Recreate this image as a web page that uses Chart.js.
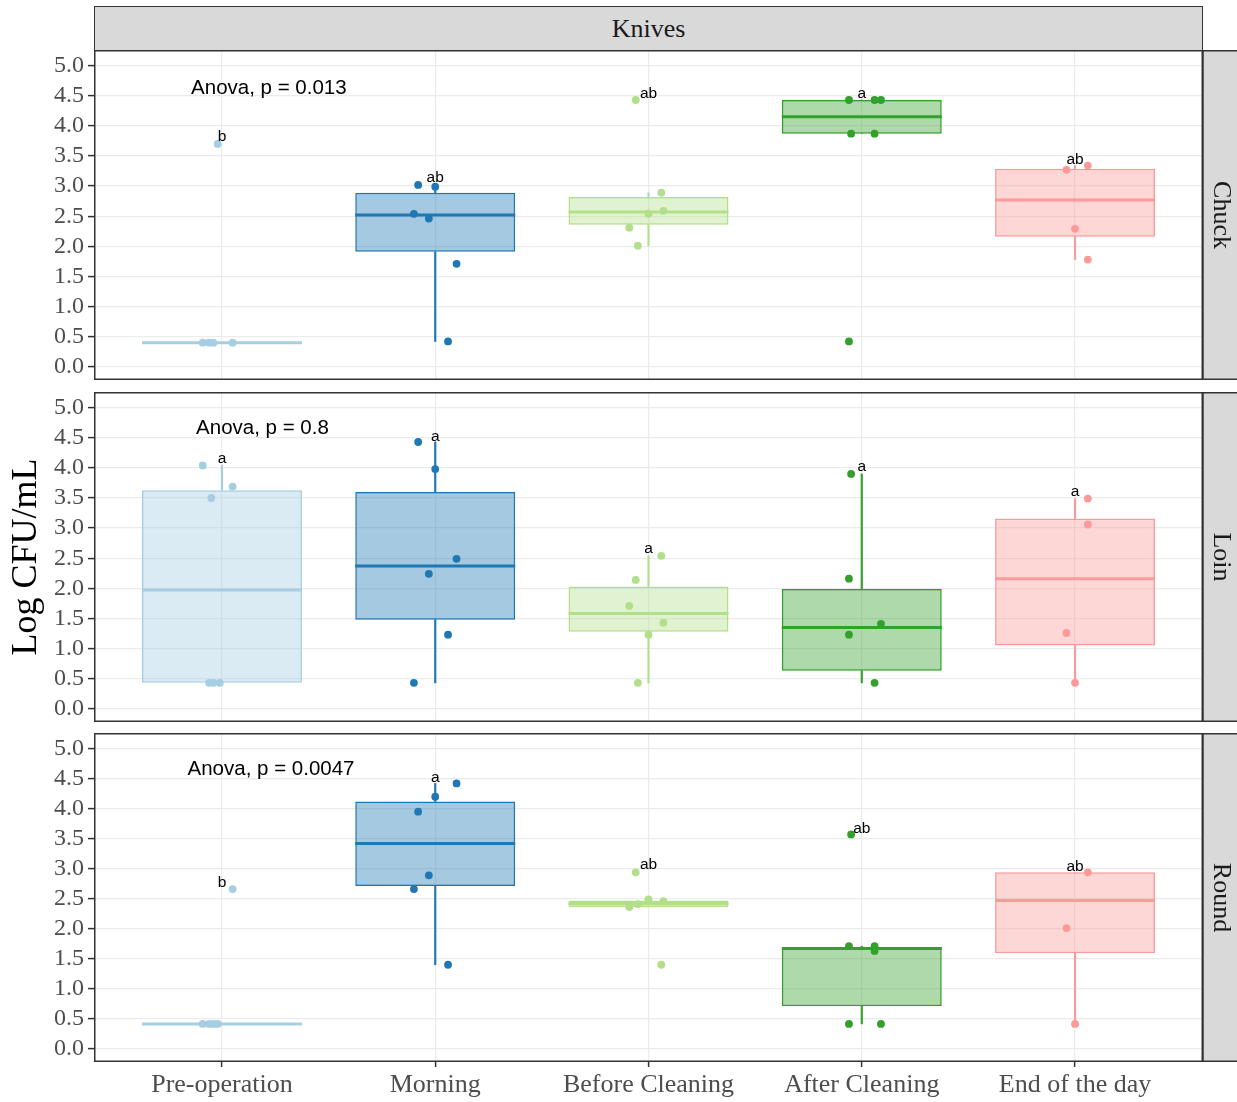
<!DOCTYPE html>
<html>
<head>
<meta charset="utf-8">
<script src="https://cdn.jsdelivr.net/npm/chart.js@4.4.1/dist/chart.umd.min.js"></script>
<style>
  body { margin: 0; background: #fff; }
  #wrap { position: relative; width: 1237px; height: 1102px; }
  canvas { position: absolute; left: 0; }
  #strip {
    position: absolute; left: 94px; top: 6px; width: 1109px; height: 44px;
    box-sizing: border-box; background: #d9d9d9; border: 1.5px solid #333; border-bottom: none;
    font: 26px "Liberation Serif", "Times New Roman", serif; color: #1a1a1a;
    text-align: center; line-height: 44px;
  }
</style>
</head>
<body>
<div id="wrap">
  <div id="strip">Knives</div>
  <canvas id="chuck" width="1237" height="330" style="top:50px"></canvas>
  <canvas id="loin" width="1237" height="330" style="top:392px"></canvas>
  <canvas id="round" width="1237" height="369" style="top:733px"></canvas>
</div>
<script>
const categories = ["Pre-operation", "Morning", "Before Cleaning", "After Cleaning", "End of the day"];
const facets = ["Chuck", "Loin", "Round"];
const groupColors = ["#a6cee3", "#1f78b4", "#b2df8a", "#33a02c", "#fb9a99"];
const yTicks = [0, 0.5, 1, 1.5, 2, 2.5, 3, 3.5, 4, 4.5, 5];

// box statistics: one row per facet (Chuck, Loin, Round), one column per category
const boxQ1 = [
  [0.40, 1.91, 2.36, 3.87, 2.16],
  [0.43, 1.48, 1.28, 0.63, 1.05],
  [0.415, 2.71, 2.36, 0.71, 1.59]
];
const boxMedian = [
  [0.40, 2.52, 2.57, 4.15, 2.77],
  [1.97, 2.37, 1.58, 1.35, 2.16],
  [0.415, 3.42, 2.42, 1.67, 2.47]
];
const boxQ3 = [
  [0.40, 2.89, 2.82, 4.43, 3.29],
  [3.63, 3.60, 2.03, 1.99, 3.16],
  [0.415, 4.12, 2.47, 1.69, 2.94]
];
const whiskerLow = [
  [0.40, 0.42, 2.01, 3.87, 1.78],
  [0.43, 0.43, 0.43, 0.43, 0.43],
  [0.415, 1.40, 2.36, 0.415, 0.415]
];
const whiskerHigh = [
  [0.40, 3.02, 2.89, 4.43, 3.34],
  [4.04, 4.43, 2.54, 3.90, 3.49],
  [0.415, 4.42, 2.47, 1.71, 2.94]
];

// raw observations (log CFU/mL) and their jitter on the x axis
const chuckPoints = [
  [3.70, 0.40, 0.40, 0.40, 0.40],
  [3.02, 2.99, 2.54, 2.46, 1.71, 0.42],
  [4.43, 2.89, 2.54, 2.59, 2.31, 2.01],
  [4.43, 4.43, 4.43, 3.87, 3.87, 0.42],
  [3.27, 3.34, 2.29, 1.78]
];
const chuckJitter = [
  [-0.02, -0.09, -0.06, -0.04, 0.05],
  [-0.08, 0.00, -0.10, -0.03, 0.10, 0.06],
  [-0.06, 0.06, 0.00, 0.07, -0.09, -0.05],
  [-0.06, 0.06, 0.09, -0.05, 0.06, -0.06],
  [-0.04, 0.06, 0.00, 0.06]
];
const loinPoints = [
  [4.04, 3.69, 3.50, 0.43, 0.43, 0.43],
  [4.43, 3.98, 2.49, 2.24, 1.23, 0.43],
  [2.54, 2.14, 1.71, 1.43, 1.23, 0.43],
  [3.90, 2.16, 1.41, 1.23, 0.43],
  [3.49, 3.06, 1.26, 0.43]
];
const loinJitter = [
  [-0.09, 0.05, -0.05, -0.06, -0.04, -0.01],
  [-0.08, 0.00, 0.10, -0.03, 0.06, -0.10],
  [0.06, -0.06, -0.09, 0.07, 0.00, -0.05],
  [-0.05, -0.06, 0.09, -0.06, 0.06],
  [0.06, 0.06, -0.04, 0.00]
];
const roundPoints = [
  [2.66, 0.415, 0.415, 0.415, 0.415],
  [4.42, 4.20, 3.95, 2.89, 2.66, 1.40],
  [2.94, 2.36, 2.41, 2.49, 2.46, 1.40],
  [3.57, 1.71, 1.71, 1.63, 0.415, 0.415],
  [2.94, 2.01, 0.415]
];
const roundJitter = [
  [0.05, -0.09, -0.06, -0.04, -0.02],
  [0.10, 0.00, -0.08, -0.03, -0.10, 0.06],
  [-0.06, -0.09, -0.05, 0.00, 0.07, 0.06],
  [-0.05, -0.06, 0.06, 0.06, -0.06, 0.09],
  [0.06, -0.04, 0.00]
];

// significance letters and anova labels
const groupLetters = [
  ["b", "ab", "ab", "a", "ab"],
  ["a", "a", "a", "a", "a"],
  ["b", "a", "ab", "ab", "ab"]
];
const letterY = [
  [3.82, 3.14, 4.53, 4.53, 3.44],
  [4.15, 4.52, 2.66, 4.02, 3.60],
  [2.76, 4.52, 3.06, 3.67, 3.04]
];
const anovaText = ["Anova, p = 0.013", "Anova, p = 0.8", "Anova, p = 0.0047"];
const anovaX = [1.22, 1.19, 1.23];
const anovaY = [4.63, 4.65, 4.65];

const serif = '"Liberation Serif", "Times New Roman", serif';
const sans = '"Liberation Sans", Arial, sans-serif';

// medians, frame, right strip and text labels
const panelDecor = {
  id: "panelDecor",
  afterDatasetDraw(chart, args, opts) {
    if (chart.data.datasets[args.index].label !== "box") return;
    const ctx = chart.ctx;
    const y = chart.scales.y;
    ctx.save();
    args.meta.data.forEach((bar, i) => {
      const py = y.getPixelForValue(boxMedian[opts.facet][i]);
      ctx.strokeStyle = groupColors[i];
      ctx.lineWidth = 3;
      ctx.beginPath();
      ctx.moveTo(bar.x - bar.width / 2, py);
      ctx.lineTo(bar.x + bar.width / 2, py);
      ctx.stroke();
    });
    ctx.restore();
  },
  afterDatasetsDraw(chart, args, opts) {
    const ctx = chart.ctx;
    const { x, y } = chart.scales;
    const f = opts.facet;
    ctx.save();
    ctx.fillStyle = "#000";
    ctx.textAlign = "center";
    ctx.textBaseline = "middle";
    ctx.font = "15.5px " + sans;
    groupLetters[f].forEach((t, i) => {
      ctx.fillText(t, x.getPixelForValue(i + 1), y.getPixelForValue(letterY[f][i]));
    });
    ctx.font = "20.5px " + sans;
    ctx.fillText(anovaText[f], x.getPixelForValue(anovaX[f]), y.getPixelForValue(anovaY[f]));
    ctx.restore();
  },
  afterDraw(chart, args, opts) {
    const ctx = chart.ctx;
    const a = chart.chartArea;
    ctx.save();
    ctx.fillStyle = "#d9d9d9";
    ctx.fillRect(a.right, a.top, chart.width - a.right, a.bottom - a.top);
    ctx.strokeStyle = "#333";
    ctx.lineWidth = 1.5;
    ctx.strokeRect(a.right, a.top + 0.75, chart.width - a.right + 2, a.bottom - a.top - 1.5);
    ctx.strokeRect(a.left + 0.75, a.top + 0.75, a.right - a.left - 1.5, a.bottom - a.top - 1.5);
    ctx.translate((a.right + chart.width) / 2 + 1, (a.top + a.bottom) / 2);
    ctx.rotate(Math.PI / 2);
    ctx.fillStyle = "#1a1a1a";
    ctx.font = "26px " + serif;
    ctx.textAlign = "center";
    ctx.textBaseline = "middle";
    ctx.fillText(facets[opts.facet], 0, 0);
    ctx.restore();
  }
};

function makePanel(id, facet, points, jitter, showX) {
  const pointSets = categories.map((c, i) => ({
    type: "scatter",
    label: c,
    order: 0,
    data: points[i].map((v, k) => ({ x: i + 1 + jitter[i][k], y: v })),
    backgroundColor: groupColors[i],
    borderWidth: 0,
    pointRadius: 3.9,
    pointHoverRadius: 3.9
  }));

  const boxSet = {
    type: "bar",
    label: "box",
    order: 1,
    data: categories.map((c, i) => ({ x: i + 1, y: [boxQ1[facet][i], boxQ3[facet][i]] })),
    backgroundColor: groupColors.map((c) => c + "66"),
    borderColor: groupColors,
    borderWidth: 1.5,
    borderSkipped: false,
    grouped: false,
    categoryPercentage: 1,
    barPercentage: 0.75
  };

  const lowerWhisker = {
    type: "bar",
    label: "whisker-low",
    order: 2,
    data: categories.map((c, i) => ({ x: i + 1, y: [whiskerLow[facet][i], boxQ1[facet][i]] })),
    backgroundColor: groupColors,
    borderWidth: 0,
    grouped: false,
    barThickness: 1.5
  };

  const upperWhisker = {
    type: "bar",
    label: "whisker-high",
    order: 2,
    data: categories.map((c, i) => ({ x: i + 1, y: [boxQ3[facet][i], whiskerHigh[facet][i]] })),
    backgroundColor: groupColors,
    borderWidth: 0,
    grouped: false,
    barThickness: 1.5
  };

  new Chart(document.getElementById(id), {
    type: "scatter",
    data: { datasets: [...pointSets, boxSet, lowerWhisker, upperWhisker] },
    plugins: [panelDecor],
    options: {
      responsive: false,
      animation: false,
      events: [],
      layout: { autoPadding: false, padding: { left: 0, right: 34, top: 0, bottom: 0 } },
      plugins: {
        legend: { display: false },
        tooltip: { enabled: false },
        panelDecor: { facet: facet }
      },
      scales: {
        x: {
          type: "linear",
          min: 0.4,
          max: 5.6,
          offset: false,
          afterBuildTicks: (s) => { s.ticks = categories.map((c, i) => ({ value: i + 1 })); },
          afterFit: (s) => { s.height = showX ? 40 : 0; s.paddingLeft = 0; s.paddingRight = 0; },
          grid: {
            offset: false,
            color: "#ebebeb",
            lineWidth: 1.2,
            drawTicks: showX,
            tickLength: 5,
            tickColor: "#333",
            tickWidth: 1.5
          },
          border: { display: false },
          ticks: {
            display: showX,
            color: "#4d4d4d",
            font: { family: serif, size: 26 },
            padding: 3,
            maxRotation: 0,
            autoSkip: false,
            callback: (v) => categories[Math.round(v) - 1]
          }
        },
        y: {
          min: -0.22,
          max: 5.26,
          afterBuildTicks: (s) => { s.ticks = yTicks.map((v) => ({ value: v })); },
          afterFit: (s) => { s.width = 94; s.paddingTop = 0; s.paddingBottom = 0; },
          grid: {
            color: "#ebebeb",
            lineWidth: 1.2,
            tickLength: 6,
            tickColor: "#333",
            tickWidth: 1.5
          },
          border: { display: false },
          ticks: {
            autoSkip: false,
            color: "#4d4d4d",
            font: { family: serif, size: 24 },
            padding: 4,
            callback: (v) => v.toFixed(1)
          },
          title: {
            display: facet === 1,
            text: "Log CFU/mL",
            color: "#000",
            font: { family: serif, size: 36, lineHeight: 1.2 },
            padding: { top: 5, bottom: 0 }
          }
        }
      }
    }
  });
}

makePanel("chuck", 0, chuckPoints, chuckJitter, false);
makePanel("loin", 1, loinPoints, loinJitter, false);
makePanel("round", 2, roundPoints, roundJitter, true);
</script>
</body>
</html>
